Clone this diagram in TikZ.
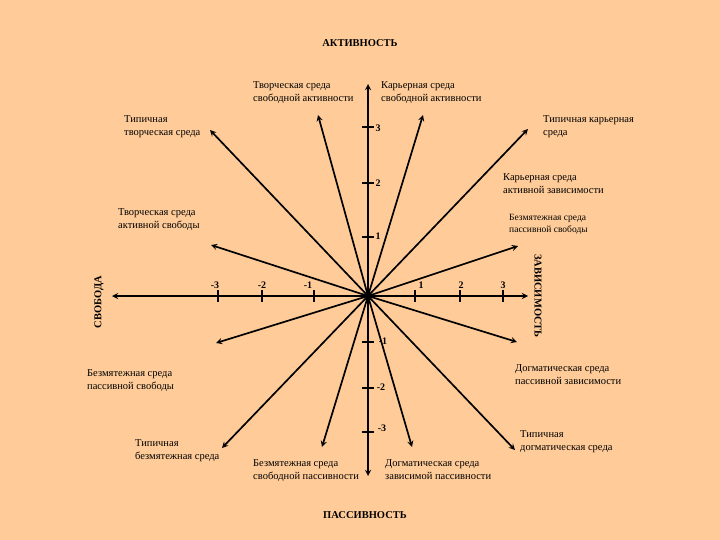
\documentclass[tikz,border=0pt]{standalone}
\usepackage{fontspec}
\setmainfont{Liberation Serif}
\usetikzlibrary{arrows}
\definecolor{peach}{RGB}{255,204,153}
\tikzset{
  ray/.style={->, >=stealth, line width=1.7pt},
  env/.style={align=left, anchor=north west, inner sep=0pt, font=\fontsize{10.5}{13.5}\selectfont},
  axislabel/.style={font=\bfseries\fontsize{10.5}{12}\selectfont},
  num/.style={font=\bfseries\fontsize{10}{11}\selectfont, inner sep=0pt},
}
\begin{document}
\begin{tikzpicture}[x=1pt, y=-1pt]
    \fill[peach] (0,0) rectangle (720,540);
    \useasboundingbox (0,0) rectangle (720,540);
    \coordinate (O) at (368,296);
    % axes
    \coordinate (L) at (112,296);
    \coordinate (R) at (528,296);
    \coordinate (U) at (368,84);
    \coordinate (D) at (368,476);
    \draw[ray] (O) -- (L);
    \draw[ray] (O) -- (R);
    \draw[ray] (O) -- (U);
    \draw[ray] (O) -- (D);
    \node (act) [axislabel] at (360,43) {АКТИВНОСТЬ};
    \node (pas) [axislabel] at (365,515) {ПАССИВНОСТЬ};
    \node (svo) [axislabel, rotate=90] at (99,302) {СВОБОДА};
    \node (zav) [axislabel, rotate=-90] at (538,296) {ЗАВИСИМОСТЬ};
    % ticks
    \foreach \x/\t/\lx in {218/-3/215, 262/-2/262, 314/-1/308, 415/1/421, 460/2/461, 503/3/503}
      {\draw[line width=1.7pt] (\x,290) -- (\x,302);
       \node[num] at (\lx,285) {\t};}
    \foreach \y/\t/\lx/\ly in {127/3/378/128, 183/2/378/183, 237/1/378/236, 342/-1/383/341, 388/-2/381/387, 432/-3/382/428}
      {\draw[line width=1.7pt] (362,\y) -- (374,\y);
       \node[num] at (\lx,\ly) {\t};}
    % environments
    \coordinate (a1) at (318,115);
    \coordinate (a2) at (423,115);
    \coordinate (a3) at (210,130);
    \coordinate (a4) at (528,129);
    \coordinate (a5) at (211,245);
    \coordinate (a6) at (518,246);
    \coordinate (a7) at (216,343);
    \coordinate (a8) at (517,342);
    \coordinate (a9) at (222,448);
    \coordinate (a10) at (322,447);
    \coordinate (a11) at (412,447);
    \coordinate (a12) at (515,450);
    \foreach \i in {1,...,12}
      \draw[ray] (O) -- (a\i);
    \node (tsa) [env] at (253,81) {Творческая среда\\свободной активности};
    \node (ksa) [env] at (381,81) {Карьерная среда\\свободной активности};
    \node (tts) [env] at (124,115) {Типичная\\творческая среда};
    \node (tks) [env] at (543,115) {Типичная карьерная\\среда};
    \node (kaz) [env] at (503,173) {Карьерная среда\\активной зависимости};
    \node (tas) [env] at (118,208) {Творческая среда\\активной свободы};
    \node (bps) [env, font=\fontsize{9.5}{12.5}\selectfont] at (509,214) {Безмятежная среда\\пассивной свободы};
    \node (bpsl) [env] at (87,369) {Безмятежная среда\\пассивной свободы};
    \node (dpz) [env] at (515,364) {Догматическая среда\\пассивной зависимости};
    \node (tbs) [env] at (135,439) {Типичная\\безмятежная среда};
    \node (tds) [env] at (520,430) {Типичная\\догматическая среда};
    \node (bsp) [env] at (253,459) {Безмятежная среда\\свободной пассивности};
    \node (dzp) [env] at (385,459) {Догматическая среда\\зависимой пассивности};
\end{tikzpicture}
\end{document}
